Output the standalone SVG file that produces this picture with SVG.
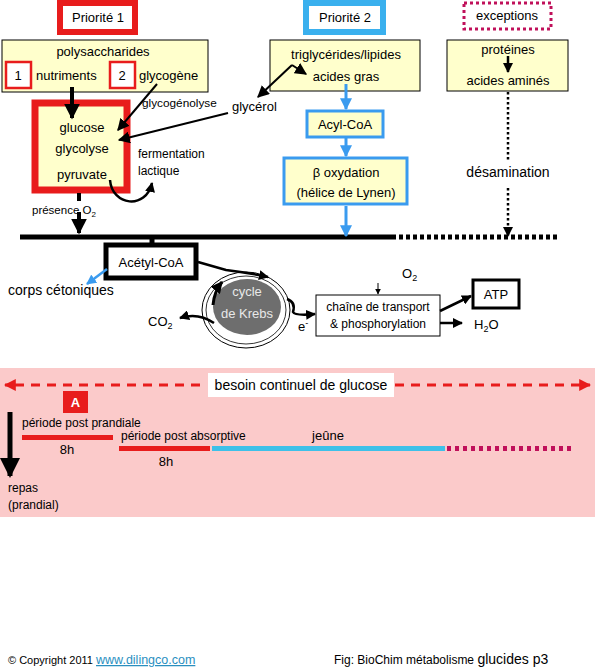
<svg xmlns="http://www.w3.org/2000/svg" width="595" height="671" viewBox="0 0 595 671">
<defs>
<marker id="ah" viewBox="0 0 10 10" refX="9" refY="5" markerWidth="4" markerHeight="4" orient="auto-start-reverse"><path d="M0,0 L10,5 L0,10 z" fill="#000"/></marker>
<marker id="ahs" viewBox="0 0 10 10" refX="9" refY="5" markerWidth="6" markerHeight="6" orient="auto"><path d="M0,0 L10,5 L0,10 z" fill="#000"/></marker>
<marker id="ahb" viewBox="0 0 10 10" refX="9" refY="5" markerWidth="4" markerHeight="4" orient="auto"><path d="M0,0 L10,5 L0,10 z" fill="#3A9BEF"/></marker>
<marker id="ahr" viewBox="0 0 10 10" refX="9" refY="5" markerWidth="4" markerHeight="4" orient="auto"><path d="M0,0 L10,5 L0,10 z" fill="#E81C1C"/></marker>
</defs>
<style>
text{font-family:"Liberation Sans",Arial,sans-serif;fill:#000}
.t14{font-size:14px}
.t13{font-size:13px}
.t12{font-size:12px}
.t11{font-size:11px}
.c{text-anchor:middle}
.yel{fill:#FFFFCC;stroke:#000;stroke-width:1}
.blu{stroke:#3A9BEF;fill:none;stroke-width:3}
</style>
<rect width="595" height="671" fill="#fff"/>

<g id="priorite1"><rect x="60" y="3" width="75" height="29" fill="#fff" stroke="#E81C1C" stroke-width="6"/><text x="98" y="22" class="t13 c">Priorité 1</text></g>
<g id="priorite2"><rect x="306" y="3" width="77" height="29" fill="#fff" stroke="#3AB0EE" stroke-width="6"/><text x="345" y="22" class="t13 c">Priorité 2</text></g>
<g id="exceptions"><rect x="464" y="3" width="87" height="26" fill="#fff" stroke="#C0105A" stroke-width="3" stroke-dasharray="3,3"/><text x="507" y="20" class="t13 c">exceptions</text></g>

<g id="polysaccharides"><rect x="2" y="40" width="206" height="52" class="yel"/>
<text x="103" y="56" class="t13 c">polysaccharides</text>
<rect x="6" y="62" width="25" height="26" fill="#fff" stroke="#E81C1C" stroke-width="2.5"/><text x="18" y="80" class="t13 c">1</text>
<text x="36" y="80" class="t13">nutriments</text>
<rect x="110" y="62" width="25" height="26" fill="#fff" stroke="#E81C1C" stroke-width="2.5"/><text x="122" y="80" class="t13 c">2</text>
<text x="139" y="80" class="t13">glycogène</text></g>

<g id="glucose"><rect x="35" y="103" width="92" height="87" fill="#FFFFCC" stroke="#E81C1C" stroke-width="7"/>
<text x="82" y="132" class="t13 c">glucose</text>
<text x="82" y="153" class="t13 c">glycolyse</text>
<text x="82" y="179" class="t13 c">pyruvate</text></g>

<g id="triglycerides"><rect x="270" y="40" width="150" height="51" class="yel"/>
<text x="346" y="59" class="t13 c">triglycérides/lipides</text>
<text x="346" y="81" class="t13 c">acides gras</text></g>

<g id="proteines"><rect x="447" y="40" width="121" height="51" class="yel"/>
<text x="508" y="54" class="t13 c">protéines</text>
<text x="508" y="85" class="t13 c">acides aminés</text></g>

<g id="acylcoa"><rect x="307" y="111" width="76" height="26" fill="#FFFFCC" stroke="#3A9BEF" stroke-width="3"/><text x="345" y="129" class="t13 c">Acyl-CoA</text></g>
<g id="boxydation"><rect x="284" y="158" width="123" height="46" fill="#FFFFCC" stroke="#3A9BEF" stroke-width="3"/>
<text x="346" y="177" class="t13 c">β oxydation</text>
<text x="346" y="197" class="t13 c">(hélice de Lynen)</text></g>

<g id="acetylcoa"><rect x="106" y="245" width="90" height="33" fill="#fff" stroke="#000" stroke-width="5"/><text x="151" y="267" class="t13 c">Acétyl-CoA</text></g>

<g id="krebs">
<ellipse cx="246" cy="310" rx="44" ry="38" fill="#fff" stroke="#000" stroke-width="1"/>
<ellipse cx="246" cy="310" rx="40" ry="34" fill="#fff" stroke="#000" stroke-width="0.8"/>
<ellipse cx="247" cy="307" rx="34" ry="28" fill="#6E6E6E"/>
<text x="247" y="296" class="t13 c" style="fill:#E8E8E8">cycle</text>
<text x="247" y="318" class="t13 c" style="fill:#E8E8E8">de Krebs</text>
</g>

<g id="chaine"><rect x="316" y="295" width="124" height="41" fill="#fff" stroke="#000" stroke-width="1"/>
<text x="378" y="311" class="t12 c">chaîne de transport</text>
<text x="378" y="328" class="t12 c">&amp; phosphorylation</text></g>

<g id="atp"><rect x="473" y="280" width="46" height="28" fill="#fff" stroke="#000" stroke-width="3"/><text x="496" y="299" class="t13 c">ATP</text></g>

<g id="labels">
<text x="142" y="107" style="font-size:11.8px">glycogénolyse</text>
<text x="232" y="111" class="t13">glycérol</text>
<text x="138" y="158" class="t12">fermentation</text>
<text x="138" y="175" class="t12">lactique</text>
<text x="32" y="214" style="font-size:11.5px">présence O<tspan dy="3" font-size="8">2</tspan></text>
<text x="508" y="177" class="t14 c">désamination</text>
<text x="8" y="295" class="t14">corps cétoniques</text>
<text x="148" y="326" class="t13">CO<tspan dy="3" font-size="9">2</tspan></text>
<text x="298" y="331" class="t13">e<tspan dy="-5" font-size="9">-</tspan></text>
<text x="402" y="278" class="t13">O<tspan dy="3" font-size="9">2</tspan></text>
<text x="474" y="329" class="t13">H<tspan dy="3" font-size="9">2</tspan><tspan dy="-3">O</tspan></text>
</g>

<g id="connectors">
<line x1="20" y1="237" x2="392" y2="237" stroke="#000" stroke-width="5"/>
<line x1="392" y1="237" x2="560" y2="237" stroke="#000" stroke-width="5" stroke-dasharray="4,3"/>
<line x1="152" y1="237" x2="152" y2="245" stroke="#000" stroke-width="5"/>
<line x1="72" y1="87" x2="72" y2="118" stroke="#000" stroke-width="4" marker-end="url(#ah)"/>
<line x1="157" y1="84" x2="118" y2="130" stroke="#000" stroke-width="2" marker-end="url(#ahs)"/>
<line x1="228" y1="113" x2="119" y2="140" stroke="#000" stroke-width="2" marker-end="url(#ahs)"/>
<path d="M110,180 C112,206 146,210 152,183" stroke="#000" stroke-width="2.5" fill="none" marker-end="url(#ah)"/>
<line x1="79" y1="193" x2="79" y2="201" stroke="#000" stroke-width="4"/>
<line x1="79" y1="212" x2="79" y2="233" stroke="#000" stroke-width="4" marker-end="url(#ah)"/>
<line x1="292" y1="65" x2="258" y2="97" stroke="#000" stroke-width="2" marker-end="url(#ahs)"/>
<line x1="292" y1="65" x2="306" y2="74" stroke="#000" stroke-width="2" marker-end="url(#ahs)"/>
<line x1="346" y1="84" x2="346" y2="109" class="blu" marker-end="url(#ahb)"/>
<line x1="346" y1="138" x2="346" y2="156" class="blu" marker-end="url(#ahb)"/>
<line x1="346" y1="206" x2="346" y2="236" class="blu" marker-end="url(#ahb)"/>
<line x1="508" y1="56" x2="508" y2="72" stroke="#000" stroke-width="2.5" marker-end="url(#ah)"/>
<line x1="508" y1="92" x2="508" y2="160" stroke="#000" stroke-width="2.5" stroke-dasharray="2.5,2.5"/>
<line x1="508" y1="188" x2="508" y2="236" stroke="#000" stroke-width="2.5" stroke-dasharray="2.5,2.5" marker-end="url(#ah)"/>
<line x1="107" y1="269" x2="87" y2="284" stroke="#3A9BEF" stroke-width="2.5" marker-end="url(#ahb)"/>
<path d="M198,262 L226,270 Q250,273 268,277" stroke="#000" stroke-width="2.5" fill="none" marker-end="url(#ah)"/>
<path d="M213,305 Q214,292 222,282" stroke="#000" stroke-width="3" fill="none" marker-end="url(#ah)"/>
<path d="M214,323 Q198,312 180,318" stroke="#000" stroke-width="2.5" fill="none" marker-end="url(#ah)"/>
<path d="M287,299 Q296,302 293,312 Q295,316 315,314" stroke="#000" stroke-width="2.5" fill="none" marker-end="url(#ah)"/>
<line x1="378" y1="283" x2="378" y2="294" stroke="#000" stroke-width="1" marker-end="url(#ahs)"/>
<line x1="440" y1="311" x2="471" y2="296" stroke="#000" stroke-width="2.5" marker-end="url(#ah)"/>
<line x1="440" y1="323" x2="462" y2="323" stroke="#000" stroke-width="2.5" marker-end="url(#ah)"/>
</g>

<g id="timeline">
<rect x="0" y="368" width="595" height="149" fill="#FBCACA"/>
<line x1="200" y1="385" x2="5" y2="385" stroke="#E81C1C" stroke-width="3" stroke-dasharray="9,7" marker-end="url(#ahr)"/>
<line x1="395" y1="385" x2="590" y2="385" stroke="#E81C1C" stroke-width="3" stroke-dasharray="9,7" marker-end="url(#ahr)"/>
<rect x="208" y="373" width="186" height="24" fill="#fff"/>
<text x="301" y="390" class="t14 c">besoin continuel de glucose</text>
<rect x="63" y="391" width="25" height="22" fill="#E81C1C"/>
<text x="75.5" y="407" class="t13 c" style="fill:#fff;font-weight:bold">A</text>
<line x1="10" y1="412" x2="10" y2="476" stroke="#000" stroke-width="5" marker-end="url(#ah)"/>
<text x="22" y="427" class="t12">période post prandiale</text>
<rect x="22" y="435" width="91" height="5" fill="#E81C1C"/>
<text x="67" y="454" class="t13 c">8h</text>
<text x="121" y="440" class="t12">période post absorptive</text>
<rect x="119" y="446" width="91" height="5" fill="#E81C1C"/>
<text x="166" y="466" class="t13 c">8h</text>
<rect x="212" y="446" width="233" height="5" fill="#3EC0E8"/>
<text x="328" y="440" class="t13 c">jeûne</text>
<line x1="447" y1="448.5" x2="575" y2="448.5" stroke="#C0105A" stroke-width="5" stroke-dasharray="4,4"/>
<text x="8" y="492" class="t12">repas</text>
<text x="8" y="509" class="t12">(prandial)</text>
</g>

<g id="footer">
<text x="8" y="664" class="t11">© Copyright 2011 <tspan style="fill:#2A8FBF;text-decoration:underline;font-size:12.5px">www.dilingco.com</tspan></text>
<text x="334" y="664" class="t12">Fig: BioChim métabolisme <tspan font-size="14">glucides p3</tspan></text>
</g>
</svg>
